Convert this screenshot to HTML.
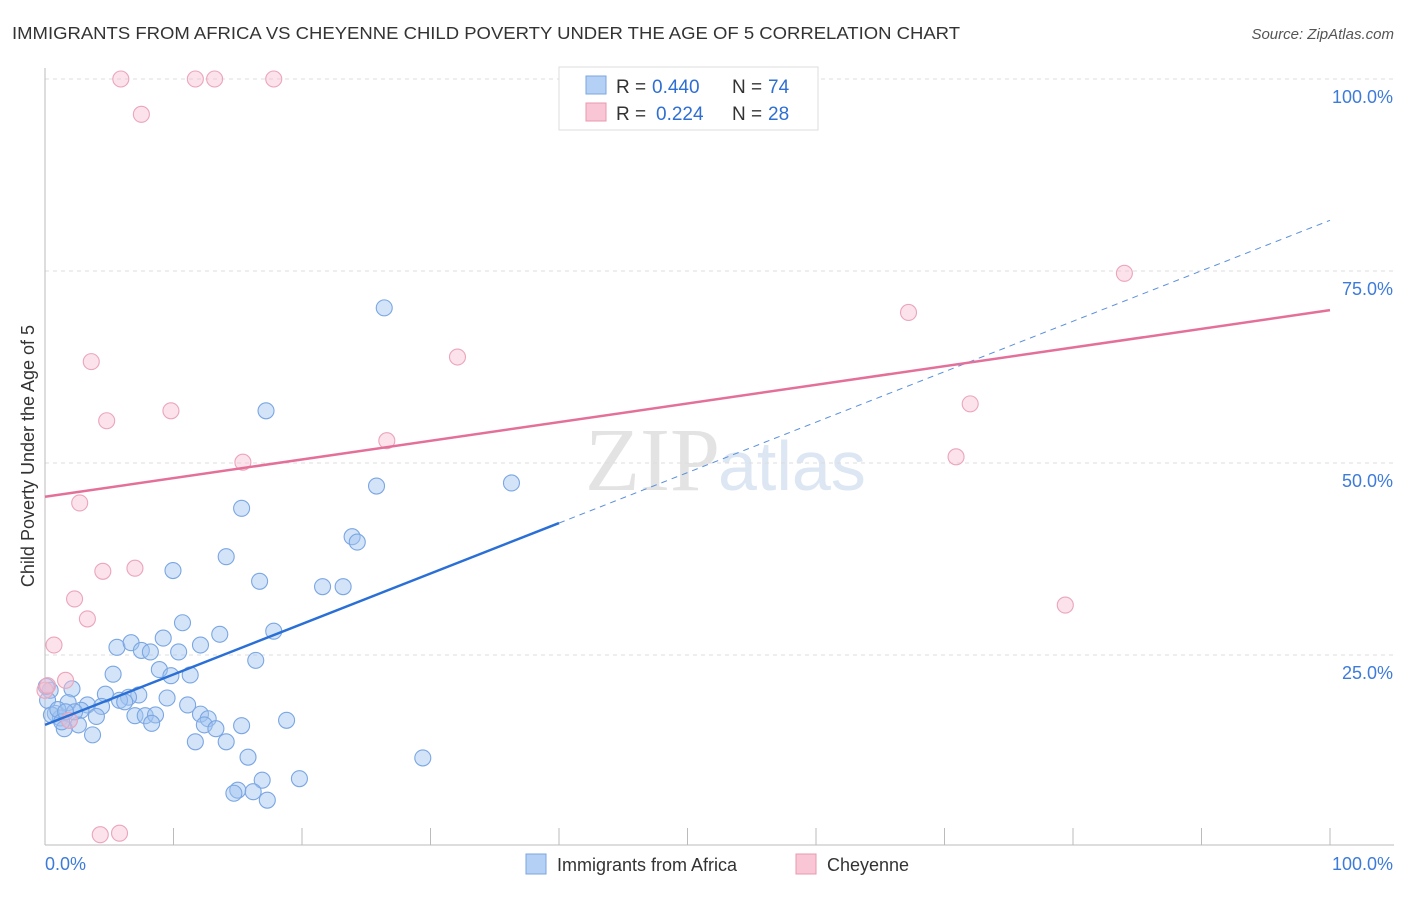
<!DOCTYPE html>
<html><head><meta charset="utf-8"><style>
body{margin:0;background:#fff;font-family:"Liberation Sans",sans-serif;}
</style></head><body>
<svg width="1406" height="892" xmlns="http://www.w3.org/2000/svg">
<text x="12" y="39" font-size="17.5" fill="#333" textLength="948" lengthAdjust="spacingAndGlyphs">IMMIGRANTS FROM AFRICA VS CHEYENNE CHILD POVERTY UNDER THE AGE OF 5 CORRELATION CHART</text>
<text x="1394" y="39" font-size="15" fill="#555" font-style="italic" text-anchor="end">Source: ZipAtlas.com</text>
<text x="720" y="490" font-size="90" fill="#e3e3e3" text-anchor="end" font-family="Liberation Serif">ZIP</text>
<text x="718" y="490" font-size="70" fill="#dde6f3">atlas</text>
<g id="grid"></g>
<g id="axes"></g>
<text transform="translate(34,456) rotate(-90)" font-size="18" fill="#333" text-anchor="middle">Child Poverty Under the Age of 5</text>
<g id="marks"></g>
<g>
<rect x="559" y="67" width="259" height="63" fill="#fff" stroke="#ddd"/>
<rect x="586" y="76" width="20" height="18" fill="#b5d0f5" stroke="#7aa6e0"/>
<rect x="586" y="103" width="20" height="18" fill="#f8c6d4" stroke="#e79ab1"/>
<text x="616" y="93" font-size="19" fill="#333">R =</text>
<text x="652" y="93" font-size="19" fill="#2f6fd1">0.440</text>
<text x="732" y="93" font-size="19" fill="#333">N =</text>
<text x="768" y="93" font-size="19" fill="#2f6fd1">74</text>
<text x="616" y="120" font-size="19" fill="#333">R =</text>
<text x="656" y="120" font-size="19" fill="#2f6fd1">0.224</text>
<text x="732" y="120" font-size="19" fill="#333">N =</text>
<text x="768" y="120" font-size="19" fill="#2f6fd1">28</text>
</g>
<g>
<rect x="526" y="854" width="20" height="20" fill="#b5d0f5" stroke="#7aa6e0"/>
<text x="557" y="871" font-size="18" fill="#333">Immigrants from Africa</text>
<rect x="796" y="854" width="20" height="20" fill="#f8c6d4" stroke="#e79ab1"/>
<text x="827" y="871" font-size="18" fill="#333">Cheyenne</text>
</g>
</svg>
<script>
const yTicks=[25,50,75,100];
const xTickLabels=["0.0%","100.0%"];
const blueX=[26.4,17.2,25.8,36.3,15.3,23.9,24.3,14.1,9.96,16.7,21.6,23.2,10.7,17.8,13.6,5.6,6.7,9.2,7.5,8.2,10.4,12.1,16.4,8.9,5.3,11.3,9.8,2.1,4.7,7.3,6.5,5.8,6.2,9.5,4.4,3.3,1.8,11.1,12.1,12.7,12.4,7.0,7.8,8.6,8.3,18.8,15.3,4.0,2.8,0.8,1.2,1.9,2.6,1.5,3.7,13.3,11.7,14.1,15.8,29.4,19.8,16.9,15.0,14.7,16.2,17.3,0.4,0.2,0.5,1.0,1.3,2.3,1.6,0.1];
const blueY=[70.2,56.8,47.0,47.4,44.1,40.4,39.7,37.8,36.0,34.6,33.9,33.9,29.2,28.1,27.7,26.0,26.6,27.2,25.6,25.4,25.4,26.3,24.3,23.1,22.5,22.4,22.3,20.6,19.9,19.8,19.5,19.1,18.9,19.4,18.3,18.5,18.8,18.5,17.3,16.7,15.9,17.1,17.1,17.2,16.1,16.5,15.8,17.0,17.8,17.4,16.8,16.5,15.9,15.4,14.6,15.4,13.7,13.7,11.7,11.6,8.9,8.7,7.4,7.0,7.2,6.1,20.4,19.1,17.2,17.9,16.3,17.6,17.6,20.9];
const pinkX=[5.9,11.7,13.2,17.8,7.5,3.6,4.8,9.8,15.4,26.6,32.1,2.7,4.5,7.0,2.3,3.3,0.7,1.6,0.0,1.9,4.3,5.8,67.2,84.0,72.0,70.9,79.4,0.2];
const pinkY=[100,100,100,100,95.4,63.2,55.5,56.8,50.1,52.9,63.8,44.8,35.9,36.3,32.3,29.7,26.3,21.7,20.4,16.5,1.6,1.8,69.6,74.7,57.7,50.8,31.5,21.0];
const blueLine=[15.9,81.6], pinkLine=[45.6,69.9];
const X=v=>45+v*12.85, Y=v=>847-v*7.68;
const NS="http://www.w3.org/2000/svg";
function mk(t,a,p){const e=document.createElementNS(NS,t);for(const k in a)e.setAttribute(k,a[k]);p.appendChild(e);return e;}
const grid=document.getElementById('grid'),axes=document.getElementById('axes'),marks=document.getElementById('marks');
yTicks.forEach(t=>{const l=mk('line',{x1:45,x2:1394,y1:Y(t),y2:Y(t),stroke:'#ddd','stroke-dasharray':'4,4'},grid);


const tx=mk('text',{x:1393,y:Y(t)+24,'font-size':18,fill:'#3d7bd9','text-anchor':'end'},axes);tx.textContent=t.toFixed(1)+'%';

});
const ya=mk('line',{x1:45,x2:45,y1:68,y2:845,stroke:'#bbb'},axes);


const xa=mk('line',{x1:45,x2:1394,y1:845,y2:845,stroke:'#bbb'},axes);


for(let i=0;i<=10;i++){const t=mk('line',{x1:X(i*10),x2:X(i*10),y1:828,y2:845,stroke:'#bbb'},axes);

}
[[0,'start',45],[100,'end',1393]].forEach((d,i)=>{const t=mk('text',{x:d[2],y:870,'font-size':18,fill:'#3d7bd9','text-anchor':d[1]},axes);t.textContent=xTickLabels[i];

});
blueX.forEach((v,i)=>{const c=mk('circle',{cx:X(v),cy:Y(blueY[i]),r:8,fill:'rgba(160,195,240,0.45)',stroke:'#7aa6e3','stroke-width':1.1},marks);

});
pinkX.forEach((v,i)=>{const c=mk('circle',{cx:X(v),cy:Y(pinkY[i]),r:8,fill:'rgba(248,190,208,0.45)',stroke:'#eba5bb','stroke-width':1.1},marks);

});
const bl=v=>blueLine[0]+(blueLine[1]-blueLine[0])*v/100;
let l1=mk('line',{x1:X(0),y1:Y(bl(0)),x2:X(40),y2:Y(bl(40)),stroke:'#2a6fd6','stroke-width':2.5},marks);


let l2=mk('line',{x1:X(40),y1:Y(bl(40)),x2:X(100),y2:Y(bl(100)),stroke:'#5a8fdc','stroke-width':1,'stroke-dasharray':'6,5'},marks);


let l3=mk('line',{x1:X(0),y1:Y(pinkLine[0]),x2:X(100),y2:Y(pinkLine[1]),stroke:'#e4709a','stroke-width':2.5},marks);


</script>
</body></html>
